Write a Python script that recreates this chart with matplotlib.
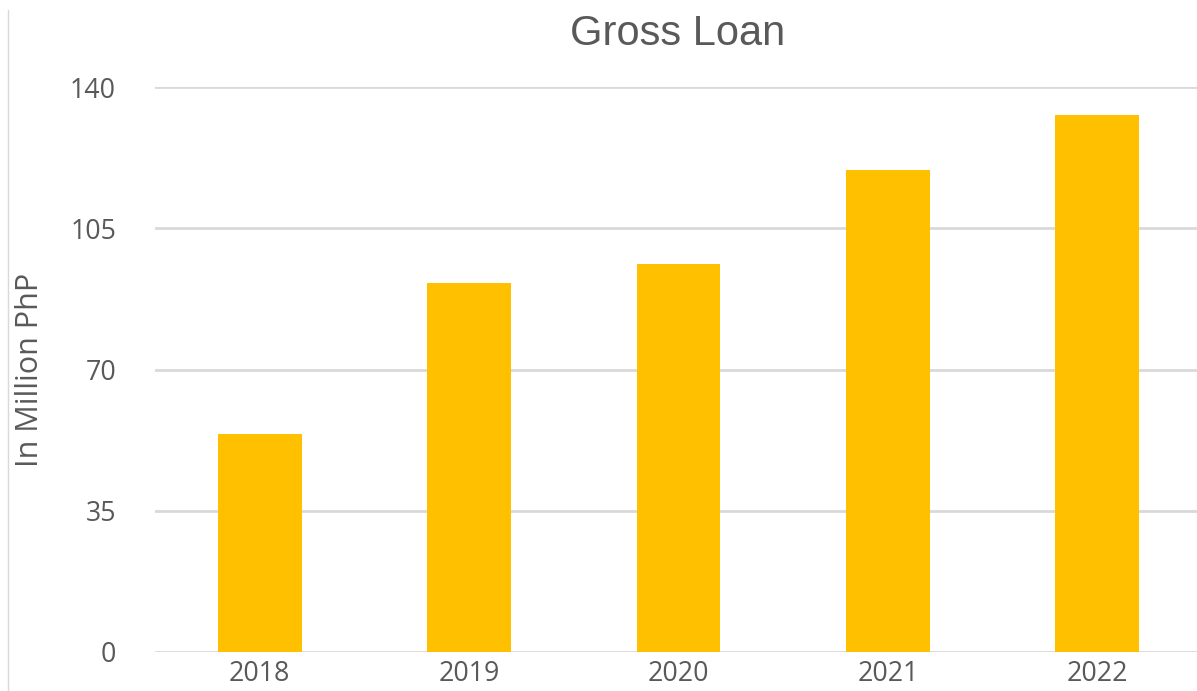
import matplotlib
matplotlib.use("Agg")
import matplotlib.pyplot as plt
from matplotlib.lines import Line2D

years = ["2018", "2019", "2020", "2021", "2022"]
gross_loan = [54.0, 91.4, 96.1, 119.4, 133.1]
y_ticks = [0, 35, 70, 105, 140]

gray = "#595959"

fig = plt.figure(figsize=(11.97, 6.91), dpi=100)
ax = fig.add_axes([155 / 1197, 1 - 652 / 691, 1047 / 1197, 565 / 691])

x = range(len(years))
ax.bar(x, gross_loan, width=0.4, color="#FFC000", zorder=3)

ax.set_xlim(-0.5, 4.5)
ax.set_ylim(0, 140)
ax.set_yticks(y_ticks)
ax.set_xticks(list(x))
ax.set_xticklabels(years)
ax.yaxis.grid(True, color="#d9d9d9", linewidth=2.0, zorder=0)
ax.set_axisbelow(True)
for s in ax.spines.values():
    s.set_visible(False)
ax.tick_params(axis="both", length=0, labelsize=19.3, labelcolor=gray)
ax.tick_params(axis="y", pad=28)
ax.tick_params(axis="x", pad=6)
for lbl in ax.get_xticklabels() + ax.get_yticklabels():
    lbl.set_fontfamily("Open Sans")

ax.set_ylabel("In Million PhP", fontsize=22, color=gray, family="Open Sans", labelpad=18)

fig.text(678 / 1197, 1 - 34 / 691, "Gross Loan", fontsize=30, color=gray,
         family="Liberation Sans", ha="center", va="center")

# thin frame line on the left edge
fig.add_artist(Line2D([8 / 1197, 8 / 1197], [0, 1 - 10 / 691], color="#d9d9d9", linewidth=1))

fig.savefig("out.png", dpi=100)
